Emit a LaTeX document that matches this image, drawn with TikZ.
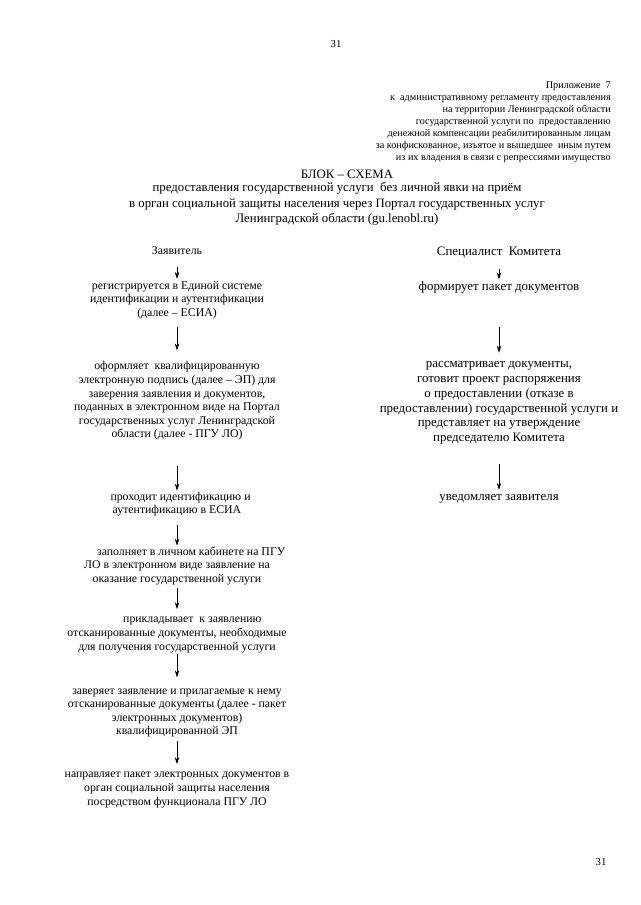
\documentclass[tikz,border=0pt]{standalone}
\usepackage{fontspec}
\setmainfont{Liberation Serif}
\usepackage{tikz}
\usetikzlibrary{arrows.meta, positioning}

\begin{document}
\begin{tikzpicture}[x=1pt, y=-1pt, >={Stealth[length=7pt, width=4.5pt]},
      arr/.style={->, line width=0.8pt},
      lstep/.style={align=center, inner sep=0pt, font=\fontsize{11.8}{13.6}\selectfont},
      rstep/.style={align=center, inner sep=0pt, font=\fontsize{12.9}{14.7}\selectfont},
      hdr/.style={align=center, inner sep=0pt, font=\fontsize{12.8}{15.5}\selectfont},
      pno/.style={inner sep=0pt, font=\fontsize{10.7}{12}\selectfont}]

    % page frame (reference proportions)
    \useasboundingbox[fill=white] (0,0) rectangle (640,905);

    % Column axes
    \def\lx{177}
    \def\rx{499}

    % Page numbers
    \node[pno] (pgtop) at (336,44)  {31};
    \node[pno] (pgbot) at (601,862) {31};

    % Appendix note (right aligned)
    \node[align=right, inner sep=0pt, anchor=north east,
          font=\fontsize{10.2}{12}\selectfont] (appx) at (611,82)
      {Приложение~~7\\
       к~~административному регламенту предоставления\\
       на территории Ленинградской области\\
       государственной услуги по~~предоставлению\\
       денежной компенсации реабилитированным лицам\\
       за конфискованное, изъятое и вышедшее~~иным путем\\
       из их владения в связи с репрессиями имущество};

    % Title
    \node[hdr] (title) at (347,174) {БЛОК – СХЕМА};
    \node[hdr] (subt) at (337,204)
      {предоставления государственной услуги~~без личной явки на приём\\
       в орган социальной защиты населения через Портал государственных услуг\\
       Ленинградской области (gu.lenobl.ru)};

    % Left column: applicant
    \node[lstep] (zayav) at (\lx,251) {Заявитель};
    \node[lstep] (esia) at (\lx,300)
      {регистрируется в Единой системе\\
       идентификации и аутентификации\\
       (далее – ЕСИА)};
    \node[lstep] (ep) at (\lx,401)
      {оформляет~~квалифицированную\\
       электронную подпись (далее – ЭП) для\\
       заверения заявления и документов,\\
       поданных в электронном виде на Портал\\
       государственных услуг Ленинградской\\
       области (далее - ПГУ ЛО)};
    \node[lstep] (ident) at (\lx,504)
      {\hspace*{0.6em}проходит идентификацию и\\
       аутентификацию в ЕСИА};
    \node[lstep] (fill) at (\lx,566)
      {\hspace*{2.4em}заполняет в личном кабинете на ПГУ\\
       ЛО в электронном виде заявление на\\
       оказание государственной услуги};
    \node[lstep] (attach) at (\lx,635)
      {\hspace*{2.6em}прикладывает~~к заявлению\\
       отсканированные документы, необходимые\\
       для получения государственной услуги};
    \node[lstep] (sign) at (\lx,713)
      {заверяет заявление и прилагаемые к нему\\
       отсканированные документы (далее - пакет\\
       электронных документов)\\
       квалифицированной ЭП};
    \node[lstep] (send) at (\lx,790)
      {направляет пакет электронных документов в\\
       орган социальной защиты населения\\
       посредством функционала ПГУ ЛО};

    % Right column: committee specialist
    \node[rstep] (spec) at (\rx,252) {Специалист~~Комитета};
    \node[rstep] (pack) at (\rx,287) {формирует пакет документов};
    \node[rstep] (review) at (\rx,403)
      {рассматривает документы,\\
       готовит проект распоряжения\\
       о предоставлении (отказе в\\
       предоставлении) государственной услуги и\\
       представляет на утверждение\\
       председателю Комитета};
    \node[rstep] (notify) at (\rx,499) {уведомляет заявителя};

    % Left arrows
    \draw[arr, shorten <=12pt, shorten >=2pt]  (zayav) -- (esia);
    \draw[arr, shorten <=8pt,  shorten >=11pt] (esia) -- (ep);
    \draw[arr, shorten <=25pt, shorten >=1pt]  (ep) -- (ident);
    \draw[arr, shorten <=9pt,  shorten >=1pt]  (ident) -- (fill);
    \draw[arr, shorten <=3pt,  shorten >=8pt]  (fill) -- (attach);
    \draw[arr, shorten <=1pt,  shorten >=11pt] (attach) -- (sign);
    \draw[arr, shorten <=3pt,  shorten >=8pt]  (sign) -- (send);

    % Right arrows
    \draw[arr, shorten <=11pt, shorten >=1.5pt] (spec) -- (pack);
    \draw[arr, shorten <=34pt, shorten >=9pt]   (pack) -- (review);
    \draw[arr, shorten <=20pt, shorten >=4.5pt] (review) -- (notify);

\end{tikzpicture}
\end{document}
